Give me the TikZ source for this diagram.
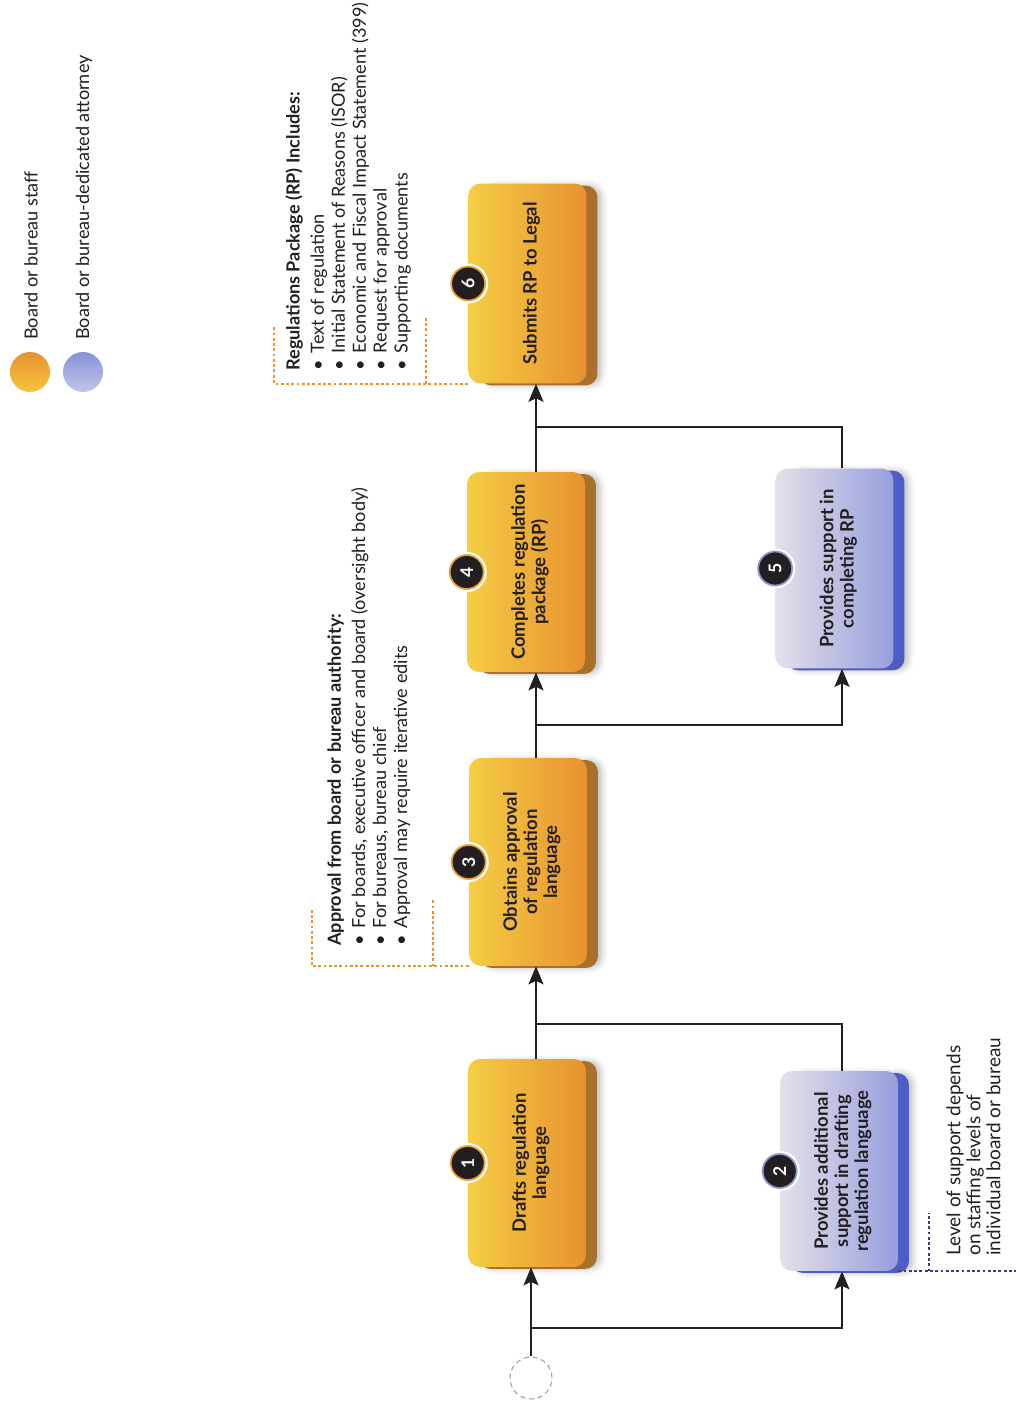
\documentclass[tikz,border=0pt]{standalone}
\usepackage{fontspec}
\setmainfont{Lato}
\usepackage{graphicx}
\usetikzlibrary{positioning,calc,shadows,shadows.blur,arrows.meta}

\definecolor{staffyellow}{HTML}{F5CD44}
\definecolor{staffmid}{HTML}{EFBB68}
\definecolor{stafforange}{HTML}{E7922F}
\definecolor{staffshade}{HTML}{A8702A}
\definecolor{staffring}{HTML}{E8A13A}
\definecolor{attylight}{HTML}{E4E1E9}
\definecolor{attymid}{HTML}{C0BFE2}
\definecolor{attyblue}{HTML}{979EDD}
\definecolor{attyshade}{HTML}{4E5CC6}
\definecolor{attyring}{HTML}{8F95D0}
\definecolor{inkgrey}{HTML}{231F20}
\definecolor{noteorange}{HTML}{F0902A}
\definecolor{notenavy}{HTML}{3A3F7A}

\newcommand{\boxlabel}[1]{\hspace*{0.2cm}\rotatebox{90}{\begin{tabular}{@{}c@{}}#1\end{tabular}}}

\tikzset{
  stepbox/.style={rectangle, rounded corners=0.24cm, minimum width=2.36cm, minimum height=4cm,
    inner sep=0pt, text=inkgrey, font=\fontsize{10.5}{11.4}\selectfont\bfseries,
    blur shadow={shadow xshift=0.3cm, shadow yshift=-0.04cm, shadow blur radius=0.12cm, shadow opacity=25}},
  staffbox/.style={stepbox, left color=staffyellow, middle color=staffmid, right color=stafforange,
    general shadow={fill=staffshade, shadow xshift=0.22cm}},
  attybox/.style={stepbox, left color=attylight, middle color=attymid, right color=attyblue,
    general shadow={fill=attyshade, shadow xshift=0.22cm}},
  badge/.style={circle, fill=inkgrey, draw=#1, line width=1pt, minimum size=0.68cm, inner sep=0pt,
    text=white, font=\fontsize{10}{12}\selectfont\bfseries, preaction={draw=white, line width=3.5pt}},
  flow/.style={draw=inkgrey, line width=1.1pt, -{Stealth[length=0.36cm, width=0.3cm, inset=0.07cm]}},
  plain/.style={draw=inkgrey, line width=1.1pt},
  note/.style={rotate=90, align=left, inner sep=0pt, text=inkgrey, font=\fontsize{10.3}{11.9}\selectfont},
  bracket/.style={draw=#1, dash pattern=on 1.6pt off 1.4pt, line width=1pt},
  startnode/.style={circle, draw=gray!75, densely dashed, line width=0.6pt, minimum size=0.84cm}
}

\begin{document}
\begin{tikzpicture}[x=0.02cm, y=-0.02cm]
\useasboundingbox (0,0) rectangle (1016,1403);

% legend
\node[circle, minimum size=0.8cm, top color=stafforange, bottom color=staffyellow!90!orange] (legstaff) at (30,372) {};
\node[circle, minimum size=0.8cm, top color=attyblue!80!attyshade, bottom color=attyblue!60!white] (legatty) at (83,372) {};
\node[note, anchor=west] (legstafftext) at (31,340) {Board or bureau staff};
\node[note, anchor=west] (legattytext) at (84,340) {Board or bureau-dedicated attorney};

% steps
\node[staffbox] (b6) at (527.5,283.5) {\boxlabel{Submits RP to Legal}};
\node[staffbox] (b4) at (526,572) {\boxlabel{Completes regulation\\package (RP)}};
\node[staffbox, minimum height=4.16cm] (b3) at (528,862) {\boxlabel{Obtains approval\\of regulation\\language}};
\node[staffbox, minimum height=4.16cm] (b1) at (527,1163) {\boxlabel{Drafts regulation\\language}};
\node[attybox] (b5) at (834.5,568.5) {\boxlabel{Provides support in\\completing RP}};
\node[attybox] (b2) at (839,1171) {\boxlabel{Provides additional\\support in drafting\\regulation language}};

\node[badge=staffring] (n6) at (b6.west) {\rotatebox{90}{6}};
\node[badge=staffring] (n4) at (b4.west) {\rotatebox{90}{4}};
\node[badge=staffring] (n3) at (b3.west) {\rotatebox{90}{3}};
\node[badge=staffring] (n1) at (b1.west) {\rotatebox{90}{1}};
\node[badge=attyring] (n5) at (b5.west) {\rotatebox{90}{5}};
\node[badge=attyring] (n2) at (b2.west) {\rotatebox{90}{2}};

% connectors
\coordinate (colA) at (536,0);
\coordinate (colB) at (842,0);
\node[startnode] (start) at (531,1378) {};
\coordinate (j1) at (531,1328);
\coordinate (j2) at (536,1024);
\coordinate (j3) at (536,725);
\coordinate (j4) at (536,427);

\draw[flow] (start.north) -- (start.north |- b1.south);
\draw[flow] (j1) -| (b2.south -| colB);
\draw[flow] (b1.north -| colA) -- (b3.south -| colA);
\draw[plain] (b2.north -| colB) |- (j2);
\draw[flow] (b3.north -| colA) -- (b4.south -| colA);
\draw[flow] (j3) -| (b5.south -| colB);
\draw[flow] (b4.north -| colA) -- (b6.south -| colA);
\draw[plain] (b5.north -| colB) |- (j4);

% notes
\node[note, anchor=north west] (rpnote) at (285,371) {\textbf{Regulations Package (RP) Includes:}\\[2pt]
  \textbullet\hspace{4pt}Text of regulation\\
  \textbullet\hspace{4pt}Initial Statement of Reasons (ISOR)\\
  \textbullet\hspace{4pt}Economic and Fiscal Impact Statement (399)\\
  \textbullet\hspace{4pt}Request for approval\\
  \textbullet\hspace{4pt}Supporting documents};
\draw[bracket=noteorange] (b6.south west) -- ++(-194,0) -- ++(0,-59);
\draw[bracket=noteorange] (b6.south west) ++(-42,0) -- ++(0,-66);

\node[note, anchor=north west] (apprnote) at (327,946) {\textbf{Approval from board or bureau authority:}\\[2pt]
  \textbullet\hspace{4pt}For boards, executive officer and board (oversight body)\\
  \textbullet\hspace{4pt}For bureaus, bureau chief\\
  \textbullet\hspace{4pt}Approval may require iterative edits};
\draw[bracket=noteorange] (b3.south west) -- ++(-157,0) -- ++(0,-58);
\draw[bracket=noteorange] (b3.south west) ++(-36,0) -- ++(0,-67);

\node[note, anchor=north west, font=\fontsize{10.8}{11.4}\selectfont] (levelnote) at (946,1256) {Level of support depends\\on staffing levels of\\individual board or bureau};
\draw[bracket=notenavy] (b2.south east) -- ++(119,0);
\draw[bracket=notenavy] (b2.south east) ++(31,0) -- ++(0,-58);

\end{tikzpicture}
\end{document}
